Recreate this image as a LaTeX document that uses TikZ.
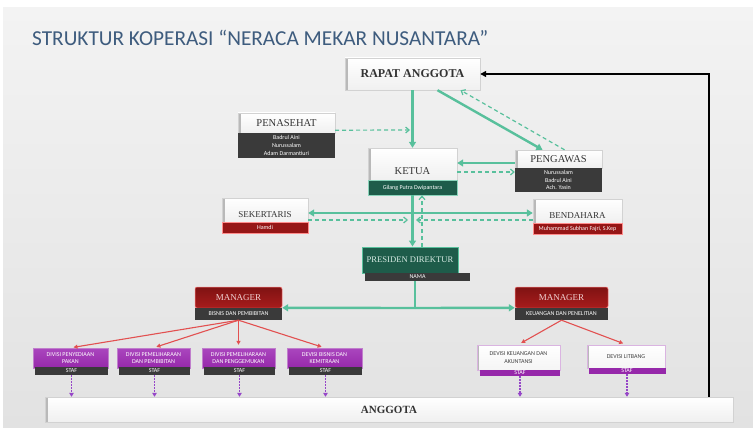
\documentclass[tikz,border=0pt]{standalone}
\usepackage{fontspec}
\setmainfont{Liberation Serif}
\newfontfamily\smallsans{Carlito}
\usetikzlibrary{arrows.meta,calc}
\definecolor{bgtop}{RGB}{243,243,243}
\definecolor{bgbot}{RGB}{226,226,226}
\definecolor{lnk}{RGB}{88,192,156}
\definecolor{dkgreen}{RGB}{30,92,74}
\definecolor{prestext}{RGB}{215,235,228}
\definecolor{dkgray}{RGB}{58,58,58}
\definecolor{dkred}{RGB}{150,22,22}
\definecolor{mred}{RGB}{168,28,28}
\definecolor{mgrtext}{RGB}{240,210,210}
\definecolor{purp}{RGB}{150,40,170}
\definecolor{purpl}{RGB}{170,70,190}
\definecolor{redarrow}{RGB}{226,80,80}
\definecolor{dotpurp}{RGB}{150,70,200}
\definecolor{titleblue}{RGB}{62,92,126}
\newcommand\tinyS{\smallsans\fontsize{6}{7.8}\selectfont}
\tikzset{
  hdr/.style={draw=gray!35, top color=white, bottom color=gray!12, inner sep=0pt,
    text=black!80, font=\fontsize{10.5}{12}\selectfont,
    path picture={\fill[gray!55] (path picture bounding box.north west) rectangle ([xshift=3pt]path picture bounding box.south west);}},
  hdrtext/.style={inner sep=0pt, text=black!80, font=\fontsize{10.5}{12}\selectfont},
  bar/.style={inner sep=0pt, text=white, font=\tinyS, align=center},
  darkbar/.style={bar, fill=dkgray},
  greenbar/.style={bar, fill=dkgreen, draw=lnk!70, line width=0.6pt},
  redbar/.style={bar, fill=dkred, draw=red!45, line width=0.5pt},
  mgr/.style={inner sep=0pt, top color=dkred!85!black, bottom color=mred, draw=red!50, line width=0.5pt,
    rounded corners=2pt, text=mgrtext, font=\fontsize{9}{10}\selectfont},
  purpbox/.style={inner sep=0pt, top color=purpl, bottom color=purp, draw=purp!60, line width=0.4pt,
    text=white, font=\tinyS, align=center},
  whitediv/.style={inner sep=0pt, top color=white, bottom color=gray!8, draw=purp!35, line width=1pt,
    text=black!75, font=\tinyS, align=center,
    path picture={\fill[gray!55] (path picture bounding box.north west) rectangle ([xshift=2pt]path picture bounding box.south west);}},
  purpbar/.style={bar, fill=purp},
  gl/.style={draw=lnk, line width=2.4pt, -{Triangle[length=6pt,width=7pt]}},
  glplain/.style={draw=lnk, line width=2.4pt},
  gd/.style={draw=lnk, line width=1.2pt, dash pattern=on 4pt off 3pt, -{Straight Barb[length=3.5pt,width=6pt]}},
  ra/.style={draw=redarrow, line width=1.1pt, -{Triangle[length=4pt,width=4pt]}, shorten >=3pt},
  pd/.style={draw=dotpurp, line width=1.1pt, dash pattern=on 1.5pt off 1.5pt, -{Triangle[length=4pt,width=4.5pt]}},
  blk/.style={draw=black, line width=1.6pt, -{Triangle[length=6pt,width=6pt]}}
}
\begin{document}
\begin{tikzpicture}[x=1pt,y=-1pt]
\useasboundingbox (0,0) rectangle (753,428);
\fill[white] (0,0) rectangle (753,428);
\shade[top color=bgtop, bottom color=bgbot] (3,8) rectangle (753,428);

% title
\node[anchor=west, inner sep=0pt, text=titleblue, font=\smallsans\fontsize{21.3}{24}\selectfont] (title) at (32,38) {STRUKTUR KOPERASI “NERACA MEKAR NUSANTARA”};

% top
\node[hdr, minimum width=135pt, minimum height=32pt, font=\bfseries\fontsize{12}{14}\selectfont] (rapat) at (412.5,74) {RAPAT ANGGOTA};

\node[hdr, minimum width=97pt, minimum height=20pt] (penH) at (286.5,123) {PENASEHAT};
\node[darkbar, minimum width=97pt, minimum height=25pt] (penB) at (286.5,145.5) {Badrul Aini\\Nurussalam\\Adam Darmantiuri};

\node[hdr, minimum width=89pt, minimum height=32pt] (ketuaH) at (412.5,164) {};
\node[hdrtext] (ketuaT) at (412.5,171) {KETUA};
\node[greenbar, minimum width=89pt, minimum height=15pt] (ketuaB) at (412.5,187.5) {Gilang Putra Dwipantara};

\node[hdr, minimum width=87pt, minimum height=18pt] (pengH) at (558.5,159) {PENGAWAS};
\node[darkbar, minimum width=87pt, minimum height=24pt] (pengB) at (558.5,180) {Nurussalam\\Badrul Aini\\Ach. Yasin};

\node[hdr, minimum width=86pt, minimum height=24pt] (sekH) at (265,210) {};
\node[hdrtext, font=\fontsize{9}{10}\selectfont] (sekT) at (265,215) {SEKERTARIS};
\node[redbar, minimum width=86pt, minimum height=11pt] (sekB) at (265,227.5) {Hamdi};

\node[hdr, minimum width=89pt, minimum height=24pt] (benH) at (577.5,211) {};
\node[hdrtext, font=\fontsize{9}{10}\selectfont] (benT) at (577.5,216) {BENDAHARA};
\node[redbar, minimum width=89pt, minimum height=11pt] (benB) at (577.5,228.5) {Muhammad Subhan Fajri, S.Kep};

\node[fill=dkgreen, draw=lnk, line width=1pt, minimum width=96pt, minimum height=26pt, inner sep=0pt,
  text=prestext, font=\fontsize{8.6}{10}\selectfont] (presH) at (410,260) {PRESIDEN DIREKTUR};
\node[darkbar, minimum width=105pt, minimum height=8pt] (presB) at (417.5,277) {NAMA};

% managers
\node[mgr, minimum width=87pt, minimum height=21pt] (mgrLH) at (238.5,297.5) {MANAGER};
\node[darkbar, minimum width=87pt, minimum height=12pt] (mgrLB) at (238.5,314) {BISNIS DAN PEMBIBITAN};
\node[mgr, minimum width=93pt, minimum height=21pt] (mgrRH) at (561.5,297.5) {MANAGER};
\node[darkbar, minimum width=93pt, minimum height=12pt] (mgrRB) at (561.5,314) {KEUANGAN DAN PENELITIAN};

% divisions
\node[purpbox, minimum width=75pt, minimum height=20pt] (d1H) at (70.5,358) {DIVISI PENYEDIAAN\\PAKAN};
\node[darkbar, minimum width=73pt, minimum height=8pt] (d1B) at (71.5,371) {STAF};
\node[purpbox, minimum width=73pt, minimum height=20pt] (d2H) at (153.5,358) {DIVISI PEMELIHARAAN\\DAN PEMBIBITAN};
\node[darkbar, minimum width=71pt, minimum height=8pt] (d2B) at (154.5,371) {STAF};
\node[purpbox, minimum width=73pt, minimum height=20pt] (d3H) at (238.5,358) {DIVISI PEMELIHARAAN\\DAN PENGGEMUKAN};
\node[darkbar, minimum width=71pt, minimum height=8pt] (d3B) at (239.5,371) {STAF};
\node[purpbox, minimum width=75pt, minimum height=20pt] (d4H) at (324.5,358) {DEVISI BISNIS DAN\\KEMITRAAN};
\node[darkbar, minimum width=73pt, minimum height=8pt] (d4B) at (325.5,371) {STAF};

\node[whitediv, minimum width=83pt, minimum height=25pt] (d5H) at (518.5,357.5) {DEVISI KEUANGAN DAN\\AKUNTANSI};
\node[purpbar, minimum width=80pt, minimum height=6pt] (d5B) at (520,373) {STAF};
\node[whitediv, minimum width=78pt, minimum height=23pt] (d6H) at (626,356.5) {DEVISI LITBANG};
\node[purpbar, minimum width=77pt, minimum height=6pt] (d6B) at (627,371) {STAF};

% bottom
\node[hdr, minimum width=688pt, minimum height=25pt, font=\bfseries\fontsize{11}{13}\selectfont] (anggota) at (389,409.5) {ANGGOTA};

% connectors
\coordinate (corner) at (709,74);
\draw[blk] (anggota.north -| corner) -- (corner) -- (rapat.east);

\draw[gl] (rapat.south) -- (ketuaH.north);
\coordinate (penEnd) at (410,130);
\draw[gd] ($(penH.south east)+(0,-3)$) -- (penEnd);
\draw[gl] ($(rapat.south)+(25,0)$) -- ($(pengH.north)+(-16,0)$);
\draw[gd] ($(pengH.north)+(6,0)$) -- ($(rapat.south)+(48,0)$);
\coordinate (pkL) at ($(pengH.west)+(0,4)$);
\draw[gl] (pkL) -- (ketuaH.east |- pkL);
\coordinate (kpR) at ($(ketuaH.east)+(0,8)$);
\draw[gd] (kpR) -- (pengB.west |- kpR);

\coordinate (sbL) at ($(sekH.east)+(0,3)$);
\draw[glplain, {Triangle[length=6pt,width=7pt]}-{Triangle[length=6pt,width=7pt]}] (sbL) -- (benH.west |- sbL);
\coordinate (sekEnd) at (408,220);
\coordinate (benEnd) at (416,220);
\draw[gd] ($(sekH.east)+(0,10)$) -- (sekEnd);
\draw[gd] (benH.west |- benEnd) -- (benEnd);

\draw[gl] (ketuaB.south) -- (ketuaB.south |- presH.north);
\coordinate (pdU) at ($(presH.north)+(12,0)$);
\draw[gd] (pdU) -- (pdU |- ketuaB.south);

\coordinate (junc) at (415,308);
\draw[glplain] (presB.south -| junc) -- (junc);
\draw[gl] (junc) -- (mgrLB.north east);
\draw[gl] (junc) -- (mgrRB.north west);

\foreach \d in {d1H,d2H,d3H,d4H}{\draw[ra] (mgrLB.south) -- (\d.north);}
\foreach \d in {d5H,d6H}{\draw[ra] (mgrRB.south) -- (\d.north);}

\foreach \d in {d1B,d2B,d3B,d4B,d5B,d6B}{\draw[pd] (\d.south) -- (\d.south |- anggota.north);}
\end{tikzpicture}
\end{document}
